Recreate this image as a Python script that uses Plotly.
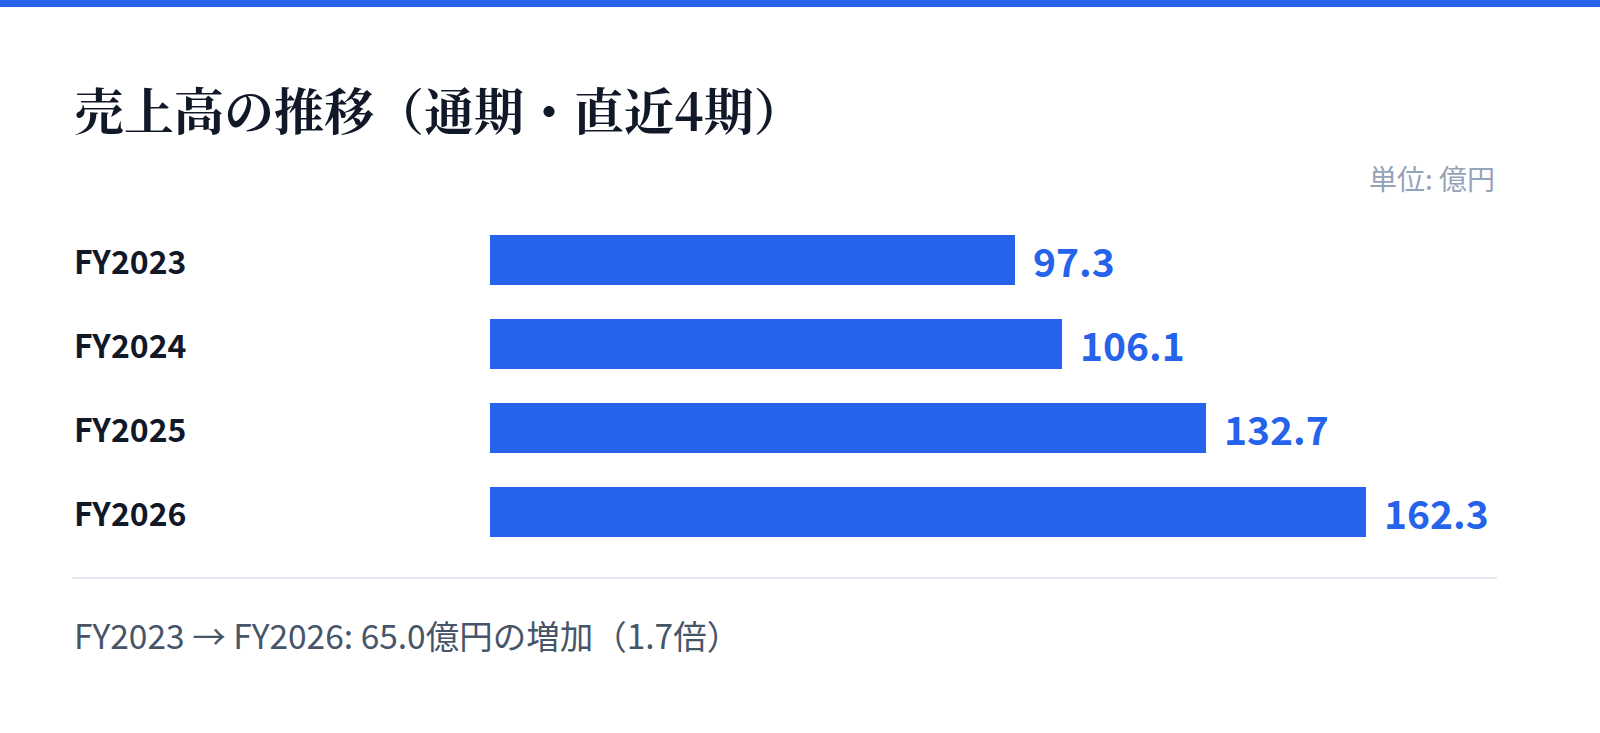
import plotly.graph_objects as go

# /// --- 売上高 (億円) --- \\\
years = ["FY2023", "FY2024", "FY2025", "FY2026"]
sales = [97.3, 106.1, 132.7, 162.3]
value_labels = ["97.3", "106.1", "132.7", "162.3"]

title_text = "売上高の推移（通期・直近4期）"
unit_text = "単位: 億円"
footer_text = "FY2023 → FY2026: 65.0億円の増加（1.7倍）"

BLUE = "#2563EB"
DARK = "#111827"
SANS = "Noto Sans CJK JP, Noto Sans, sans-serif"
SERIF = "Noto Serif CJK JP, Noto Sans CJK JP, serif"

fig = go.Figure(go.Bar(
    x=sales, y=years, orientation="h",
    marker=dict(color=BLUE, line=dict(width=0)),
    width=0.595, hoverinfo="skip",
))

annotations = []
# year labels on the left, left aligned
for yr in years:
    annotations.append(dict(
        x=-0.415, xref="paper", y=yr, yref="y", xanchor="left", yanchor="middle",
        text="<b>" + yr + "</b>", showarrow=False,
        font=dict(family=SANS, size=32, color=DARK),
    ))
# values after the bars
for yr, v, lab in zip(years, sales, value_labels):
    annotations.append(dict(
        x=v, y=yr, xanchor="left", yanchor="middle", xshift=16,
        text="<b>" + lab + "</b>", showarrow=False,
        font=dict(family=SANS, size=39, color=BLUE),
    ))

annotations += [
    dict(x=-0.415, y=1.327, xref="paper", yref="paper", xanchor="left", yanchor="middle",
         text="<b>" + title_text + "</b>", showarrow=False,
         font=dict(family=SERIF, size=50, color=DARK)),
    dict(x=1.0, y=1.12, xref="paper", yref="paper", xanchor="right", yanchor="middle",
         text=unit_text, showarrow=False,
         font=dict(family=SANS, size=28, color="#94A3B8")),
    dict(x=-0.415, y=-0.24, xref="paper", yref="paper", xanchor="left", yanchor="middle",
         text=footer_text, showarrow=False,
         font=dict(family=SANS, size=33.5, color="#475569")),
]

shapes = [
    # top accent band
    dict(type="rect", xref="paper", yref="paper", x0=-0.5, x1=1.2, y0=1.628, y1=1.7,
         fillcolor=BLUE, line=dict(width=0), layer="above"),
    # divider
    dict(type="line", xref="paper", yref="paper", x0=-0.415, x1=1.0, y0=-0.0714, y1=-0.0714,
         line=dict(color="#E2E8F0", width=2)),
]

fig.update_layout(
    width=1600, height=733,
    margin=dict(l=490, r=103, t=218, b=179),
    paper_bgcolor="white", plot_bgcolor="white",
    showlegend=False,
    annotations=annotations, shapes=shapes,
    xaxis=dict(range=[0, max(sales) * 1.15], visible=False, fixedrange=True),
    yaxis=dict(autorange="reversed", visible=False, fixedrange=True),
    bargap=0,
)

page_css = (
    "var s=document.createElement('style');"
    "s.textContent='html,body{margin:0;padding:0;overflow:hidden;width:1600px;height:733px;}';"
    "document.head.appendChild(s);"
)
fig.write_html("out.html", config={"displayModeBar": False}, post_script=page_css)
